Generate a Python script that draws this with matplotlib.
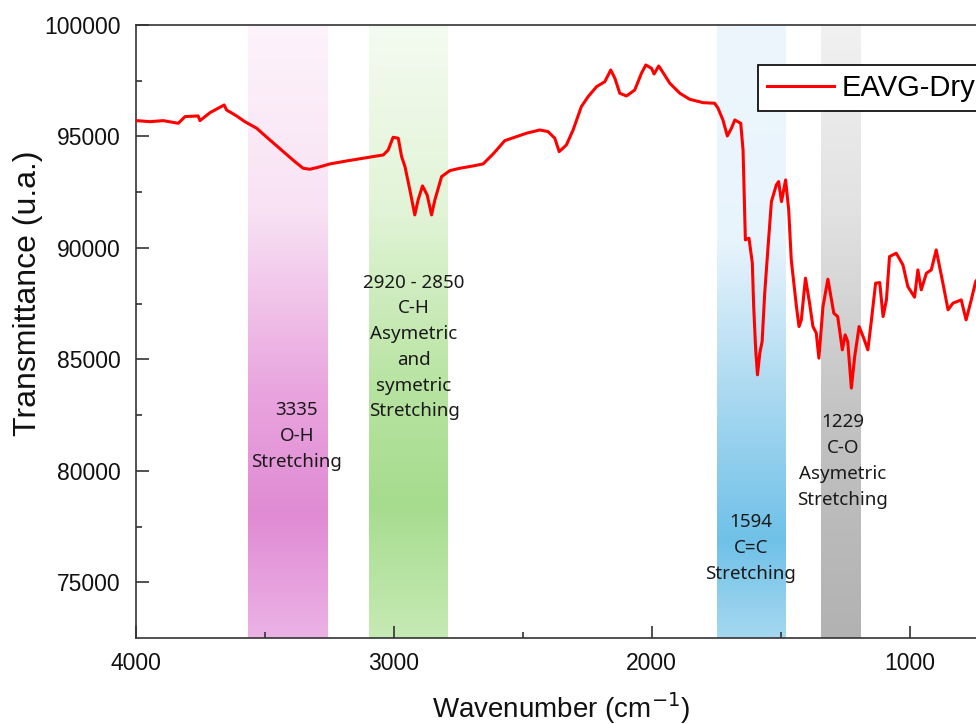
import numpy as np
import matplotlib
matplotlib.use("Agg")
import matplotlib.pyplot as plt
from matplotlib.colors import LinearSegmentedColormap

# ---- data ----
wavenumber = [3997, 3946, 3894, 3836, 3810, 3759, 3752, 3713, 3658, 3649, 3610, 3578,
              3532, 3481, 3429, 3384, 3352, 3326, 3293, 3248, 3183, 3119, 3041, 3022,
              3003, 2983, 2970, 2957, 2938, 2919, 2906, 2889, 2871, 2854, 2841, 2815,
              2783, 2744, 2693, 2654, 2615, 2570, 2524, 2486, 2434, 2402, 2376, 2359,
              2331, 2305, 2273, 2247, 2214, 2182, 2159, 2143, 2124, 2098, 2066, 2040,
              2023, 2001, 1991, 1973, 1956, 1930, 1891, 1853, 1801, 1756, 1743, 1724,
              1707, 1691, 1678, 1655, 1646, 1642, 1637, 1623, 1610, 1605, 1597, 1590,
              1581, 1572, 1562, 1549, 1536, 1517, 1508, 1497, 1481, 1469, 1459, 1439,
              1429, 1420, 1404, 1388, 1375, 1362, 1352, 1336, 1317, 1294, 1279, 1261,
              1250, 1240, 1226, 1213, 1196, 1178, 1162, 1148, 1132, 1116, 1103, 1090,
              1078, 1052, 1026, 1007, 981, 968, 955, 935, 916, 897, 871, 851,
              832, 800, 781, 761, 744, 730]
transmittance = [95709, 95664, 95709, 95590, 95890, 95920, 95709, 96067, 96413, 96189, 95920, 95664,
                 95368, 94844, 94319, 93870, 93574, 93529, 93619, 93767, 93902, 94023, 94171, 94395,
                 94964, 94919, 94095, 93646, 92601, 91480, 92153, 92781, 92377, 91480, 92153, 93198,
                 93467, 93574, 93677, 93767, 94216, 94812, 94991, 95144, 95292, 95216, 94920, 94319,
                 94619, 95292, 96337, 96785, 97233, 97458, 97982, 97609, 96937, 96816, 97085, 97834,
                 98206, 98058, 97803, 98161, 97861, 97386, 96937, 96668, 96516, 96489, 96265, 95740,
                 95023, 95368, 95740, 95592, 94395, 92601, 90359, 90435, 89314, 87445, 85427, 84306,
                 85278, 85800, 87970, 90059, 92076, 92826, 92974, 92076, 93050, 91705, 89463, 87370,
                 86472, 86772, 88642, 87521, 86472, 86175, 85055, 87370, 88597, 87072, 86920, 85427,
                 86100, 85800, 83710, 85127, 86472, 85951, 85427, 86772, 88418, 88445, 86920, 87669,
                 89611, 89763, 89238, 88266, 87790, 89014, 88117, 88866, 89014, 89911, 88418, 87221,
                 87521, 87669, 86772, 87669, 88490, 88700]
series_label = "EAVG-Dry"

band_ranges = [(3566, 3256), (3097, 2791), (1748, 1484), (1345, 1190)]
band_labels = ["3335\nO-H\nStretching",
               "2920 - 2850\nC-H\nAsymetric\nand\nsymetric\nStretching",
               "1594\nC=C\nStretching",
               "1229\nC-O\nAsymetric\nStretching"]
x_ticks = [4000, 3000, 2000, 1000]
x_minor = [3500, 2500, 1500]
y_ticks = [75000, 80000, 85000, 90000, 95000, 100000]
y_minor = [77500, 82500, 87500, 92500, 97500]

# ---- styling ----
band_gradients = [
    [(0.0, "#fdf3fb"), (0.3, "#f8e2f4"), (0.6, "#e9a4de"), (0.8, "#e08bd4"), (1.0, "#ebb2e5")],
    [(0.0, "#f4fbf1"), (0.3, "#e2f4d7"), (0.6, "#b6e3a0"), (0.78, "#a6dc8e"), (1.0, "#c6eab5")],
    [(0.0, "#eef6fd"), (0.35, "#e8f4fc"), (0.62, "#a6d7f0"), (0.84, "#6fc1e8"), (1.0, "#a6d8f0")],
    [(0.0, "#f1f1f1"), (0.3, "#e2e2e2"), (0.65, "#c2c2c2"), (1.0, "#b2b2b2")],
]
label_pos = [(297, 436), (414, 347), (751, 548), (843, 461)]  # pixel centers

W, H = 976, 724
fig = plt.figure(figsize=(W / 100, H / 100), dpi=100)
left_px, right_px, top_px, bot_px = 136, 987, 25, 638
ax = fig.add_axes([left_px / W, 1 - bot_px / H, (right_px - left_px) / W, (bot_px - top_px) / H])

ymin, ymax = 72500, 100000
xmax, xmin = 4000, 700

grad = np.repeat(np.linspace(0, 1, 1024).reshape(-1, 1), 2, axis=1)
for (xa, xb), stops in zip(band_ranges, band_gradients):
    cmap = LinearSegmentedColormap.from_list("g", stops, N=1024)
    ax.imshow(grad, cmap=cmap, aspect="auto", extent=(xa, xb, ymin, ymax),
              origin="upper", zorder=0, interpolation="nearest")

ax.plot(wavenumber, transmittance, color="#ff0000", lw=2.2, zorder=3, label=series_label)

ax.set_xlim(xmax, xmin)
ax.set_ylim(ymin, ymax)

tick_font = {"family": ["Liberation Sans", "DejaVu Sans"], "size": 16.5}
ax.set_xticks(x_ticks)
ax.set_xticks(x_minor, minor=True)
ax.set_yticks(y_ticks)
ax.set_yticks(y_minor, minor=True)
ax.set_xticklabels([str(v) for v in x_ticks], fontdict=tick_font, color="#111")
ax.set_yticklabels([str(v) for v in y_ticks], fontdict=tick_font, color="#111")
ax.tick_params(which="major", direction="in", length=9, width=1.2, color="#333")
ax.tick_params(which="minor", direction="in", length=4.5, width=1.2, color="#333")
ax.tick_params(axis="y", which="major", pad=11)
ax.tick_params(axis="x", which="major", pad=10)
for s in ax.spines.values():
    s.set_color("#333")
    s.set_linewidth(1.2)

fig.text(28 / W, 1 - 293 / H, "Transmittance (u.a.)", rotation=90, ha="center", va="center",
         fontsize=23, family=["Liberation Sans", "DejaVu Sans"], color="#111")
fig.text(561 / W, 1 - 708 / H, "Wavenumber (cm$^{-1}$)", ha="center", va="center",
         fontsize=20, family=["Liberation Sans", "DejaVu Sans"], color="#111")

for (px, py), txt in zip(label_pos, band_labels):
    fig.text(px / W, 1 - py / H, txt, ha="center", va="center", fontsize=13.5,
             family=["Noto Sans", "DejaVu Sans"], color="#1a1a1a", linespacing=1.55, zorder=5)

leg = ax.legend(loc="upper left", bbox_to_anchor=((758 - left_px) / (right_px - left_px),
                                                   (bot_px - 65) / (bot_px - top_px)),
                borderaxespad=0, fancybox=False, framealpha=1, edgecolor="#111",
                prop={"family": ["Liberation Sans", "DejaVu Sans"], "size": 21},
                handlelength=2.3, handletextpad=0.25, borderpad=0.3)
leg.get_frame().set_linewidth(1.3)

fig.savefig("out.png", dpi=100)
